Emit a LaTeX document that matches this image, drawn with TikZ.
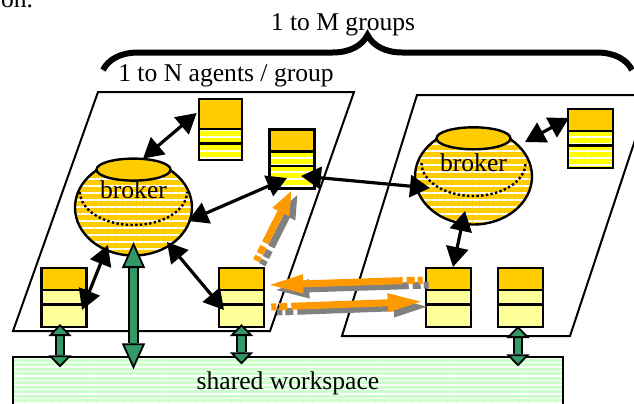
\documentclass[tikz,border=0pt]{standalone}
\usepackage{fontspec}
\setmainfont{Liberation Serif}
\usetikzlibrary{arrows.meta,shapes.geometric,patterns.meta,decorations.pathreplacing}

\definecolor{gold}{HTML}{FFCC00}
\definecolor{lityel}{HTML}{FFFF00}
\definecolor{paleyel}{HTML}{FFFF99}
\definecolor{orangeflow}{HTML}{FF9900}
\definecolor{wsgreen}{HTML}{CCFFCC}
\definecolor{linkgreen}{HTML}{339966}
\definecolor{shadowgray}{HTML}{808080}

\tikzstyle{groupframe} = [line width=1pt]
\tikzstyle{broker} = [draw, ellipse, line width=1.2pt, minimum width=58.5pt, minimum height=48pt, inner sep=0pt, preaction={fill=gold}, pattern={Lines[distance=3.5pt,line width=0.9pt]}, pattern color=white]
\tikzstyle{lid} = [draw, ellipse, line width=1.2pt, fill=gold, minimum width=37pt, minimum height=11pt, inner sep=0pt]
\tikzstyle{rim} = [line width=1.2pt, dash pattern=on 1.2pt off 1.15pt]
\tikzstyle{tie} = [line width=1.6pt, {Triangle[length=10pt,width=11pt]}-{Triangle[length=10pt,width=11pt]}]
\tikzstyle{workspace} = [draw, line width=1pt, inner sep=0pt, minimum width=275pt, minimum height=26.5pt, preaction={fill=wsgreen}, pattern={Lines[distance=2.25pt,line width=0.6pt]}, pattern color=white]
\tikzset{agent/.style={draw, line width=1.3pt, rectangle, inner sep=0pt, minimum width=22.5pt, minimum height=29.5pt,
    path picture={
      \fill[gold] (path picture bounding box.north west) rectangle ([yshift=-#1]path picture bounding box.north east);
      \draw[line width=1.3pt] ([yshift=-#1]path picture bounding box.north west) -- ([yshift=-#1]path picture bounding box.north east);
      \draw[line width=1.3pt] ([yshift=-#1-7.25pt]path picture bounding box.north west) -- ([yshift=-#1-7.25pt]path picture bounding box.north east);}}}
\tikzstyle{agentpale} = [agent=11pt, fill=paleyel]
\tikzstyle{agentlit} = [agent=11pt, preaction={fill=lityel}, pattern={Lines[distance=3.5pt,line width=0.8pt]}, pattern color=white]
\tikzset{shared/.style={line width=3.4pt, draw=linkgreen,
    {Triangle[length=#1,width=11.5pt,fill=linkgreen,color=black,line width=0.9pt]}-{Triangle[length=#1,width=11.5pt,fill=linkgreen,color=black,line width=0.9pt]},
    preaction={draw=black, line width=5.2pt, -, shorten <=#1, shorten >=#1}}}
\tikzset{handoff/.style={line width=3.5pt, -{Triangle[length=#1,width=8.5pt]}, dash pattern=on 2.5pt off 1.5pt on 4pt off 2pt on 500pt off 0pt}}

\begin{document}
\begin{tikzpicture}[x=0.5pt, y=-0.5pt, font=\fontsize{12.8}{15}\selectfont]
    \useasboundingbox (0,0) rectangle (634,403);

    % the two groups
    \draw[groupframe] (98,92) -- (354,92) -- (270,331) -- (13,331) -- cycle;
    \draw[groupframe] (417,95) -- (650,95) -- (570,336) -- (342,336) -- cycle;

    \node[anchor=base west] (prev) at (-6,7) {on.};
    \draw[line width=3pt, decorate, decoration={brace, amplitude=17.5pt}] (103,70) -- (632,70);
    \node[anchor=base] (groups) at (343,30) {1 to M groups};
    \node[anchor=base] (agents) at (226,81) {1 to N agents / group};

    \node[workspace] (ws) at (288,383.5) {shared workspace};

    % brokers
    \node[broker] (bL) at (133.5,207.5) {};
    \node[lid] (bLlid) at ([shift={(0,11)}]bL.north) {};
    \draw[rim] ([shift={(-53.5,-15.5)}]bL.center) arc[start angle=180, end angle=360, x radius=26.75pt, y radius=16.5pt];
    \node (bLtext) at ([shift={(0,-17.5)}]bL.center) {broker};

    \node[broker] (bR) at (473.5,176.5) {};
    \node[lid] (bRlid) at ([shift={(0,11)}]bR.north) {};
    \draw[rim] ([shift={(-52,-13.5)}]bR.center) arc[start angle=180, end angle=360, x radius=26pt, y radius=16.5pt];
    \node (bRtext) at ([shift={(0,-13.5)}]bR.center) {broker};

    % agents
    \node[agentlit, agent=15pt, minimum width=21.5pt, minimum height=30.5pt] (A1) at (220.5,129.5) {};
    \node[agentlit] (A2) at (292,159) {};
    \node[agentpale] (A3) at (64,297.5) {};
    \node[agentpale] (A4) at (241.5,297.5) {};
    \node[agentpale] (B1) at (448.5,297.5) {};
    \node[agentpale] (B2) at (520.5,297.5) {};
    \node[agentlit] (B3) at (590.5,138.5) {};

    % links to the brokers
    \draw[tie] ([shift={(9.5,0)}]bL.north) -- ([shift={(-1,-16.5)}]A1.west);
    \draw[tie] ([shift={(54.5,13.5)}]bL.center) -- ([shift={(-5,19)}]A2.center);
    \draw[tie] ([shift={(9,17)}]A2.center) -- ([shift={(-43.5,11.5)}]bR.center);
    \draw[tie] ([shift={(51.5,-34.5)}]bR.center) -- ([shift={(-21.5,-20.5)}]B3.center);
    \draw[tie] ([shift={(-25.5,37.5)}]bL.center) -- ([shift={(18,12.5)}]A3.center);
    \draw[tie] ([shift={(33.5,34.5)}]bL.center) -- ([shift={(-17.5,12.5)}]A4.center);
    \draw[tie] ([shift={(-8.5,34.5)}]bR.center) -- ([shift={(4.5,-30.5)}]B1.center);

    % access to the shared workspace
    \coordinate (wsA3) at (ws.north -| A3.center);
    \coordinate (wsbL) at (ws.north -| bL.center);
    \coordinate (wsA4) at (ws.north -| A4.center);
    \coordinate (wsB2) at (ws.north -| B2.center);
    \draw[shared=6pt] ([shift={(-4,26.5)}]A3.center) -- ([shift={(-4,11)}]wsA3);
    \draw[shared=13pt] ([shift={(0,34.5)}]bL.center) -- ([shift={(0,13)}]wsbL);
    \draw[shared=6pt] ([shift={(0,26.5)}]A4.center) -- ([shift={(0,8)}]wsA4);
    \draw[shared=6pt] ([shift={(-2.5,28.5)}]B2.center) -- ([shift={(-2.5,10)}]wsB2);

    % hand-offs between agents
    \draw[handoff=12.5pt, shadowgray, transform canvas={xshift=3pt, yshift=-2pt}] ([shift={(-9,-6)}]A4.north east) -- (A2.south);
    \draw[handoff=12.5pt, orangeflow] ([shift={(-9,-6)}]A4.north east) -- (A2.south);
    \draw[handoff=18pt, shadowgray, transform canvas={xshift=3pt, yshift=-2.5pt}] ([shift={(-2,-17.5)}]B1.west) -- ([shift={(2,-12.5)}]A4.east);
    \draw[handoff=18pt, orangeflow] ([shift={(-2,-17.5)}]B1.west) -- ([shift={(2,-12.5)}]A4.east);
    \draw[handoff=18pt, shadowgray, transform canvas={xshift=3pt, yshift=-2.5pt}] ([shift={(6,9.5)}]A4.east) -- ([shift={(-1,4)}]B1.west);
    \draw[handoff=18pt, orangeflow] ([shift={(6,9.5)}]A4.east) -- ([shift={(-1,4)}]B1.west);

\end{tikzpicture}
\end{document}
